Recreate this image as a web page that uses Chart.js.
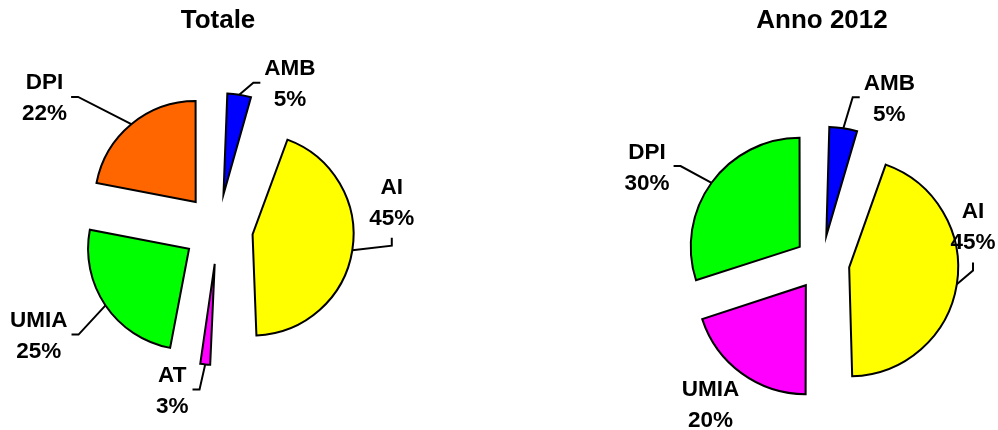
<!DOCTYPE html>
<html>
<head>
<meta charset="utf-8">
<script src="https://cdn.jsdelivr.net/npm/chart.js@4.4.1/dist/chart.umd.min.js"></script>
<style>
  html,body{margin:0;padding:0;background:#fff;overflow:hidden;}
  #wrap{position:relative;width:998px;height:430px;overflow:hidden;}
  canvas{position:absolute;top:0;}
  #totCanvas{left:-50px;}
  #yearCanvas{left:600px;}
</style>
</head>
<body>
<div id="wrap">
  <canvas id="totCanvas" width="502" height="430"></canvas>
  <canvas id="yearCanvas" width="428" height="430"></canvas>
</div>
<script>
/* ---------- data ---------- */
const totLabels = ['AMB','AI','AT','UMIA','DPI'];
const totValues = [5,45,3,25,22];
const totColors = ['#0000FF','#FFFF00','#FF00FF','#00FF00','#FF6600'];

const yearLabels = ['AMB','AI','UMIA','DPI'];
const yearValues = [5,45,20,30];
const yearColors = ['#0000FF','#FFFF00','#FF00FF','#00FF00'];

const FONT = "'Liberation Sans', Arial, Helvetica, sans-serif";

/* chart.js grows small slices when they're offset - undo that so every slice keeps the same radius */
const keepRadius = {
  id:'keepRadius',
  afterDatasetUpdate(chart, args){
    const R = args.meta.controller.outerRadius;
    args.meta.data.forEach(arc=>{
      const off = (arc.options && arc.options.offset || 0)/4;
      const fix = 1 - Math.sin(Math.min(Math.PI, arc.circumference));
      arc.outerRadius = R - off*fix;
    });
  }
};

/* outside labels "NAME / nn%" with leader lines */
const sliceLabels = {
  id:'sliceLabels',
  afterDatasetsDraw(chart, args, opts){
    const meta = chart.getDatasetMeta(0);
    const R = meta.controller.outerRadius;
    const vals = chart.data.datasets[0].data;
    const ctx = chart.ctx;
    ctx.save();
    ctx.font = `bold ${opts.size}px ${FONT}`;
    ctx.fillStyle = '#000';
    ctx.strokeStyle = '#000';
    ctx.lineWidth = 2;
    ctx.textAlign = 'center';
    meta.data.forEach((arc,i)=>{
      const p = opts.place[i];
      if(!p) return;
      const mid = (arc.startAngle + arc.endAngle)/2;
      const ang = mid + p.turn*Math.PI/180;
      const bx = arc.x + Math.cos(ang)*p.dist;
      const by = arc.y + Math.sin(ang)*p.dist;
      const lines = [chart.data.labels[i], vals[i] + '%'];
      const w = Math.max(...lines.map(t=>ctx.measureText(t).width));
      lines.forEach((t,k)=>{
        ctx.fillText(t, bx, by + (k-0.5)*opts.lineGap + opts.size*0.358);
      });
      if(!p.leader) return;
      const shift = (arc.options.offset||0)/4;
      const sx = arc.x + Math.cos(mid)*(shift + R);
      const sy = arc.y + Math.sin(mid)*(shift + R);
      let ex, ey, kx, ky;
      if(p.leader === 'h'){
        const right = bx > sx;
        ex = right ? bx - w/2 - 4 : bx + w/2 + 4;
        ey = by;
        kx = right ? ex - 7 : ex + 7;
        ky = ey;
      } else {
        ex = bx;
        ey = by + opts.lineGap/2 + opts.size*0.358 + 13;
        kx = ex;
        ky = ey + 8;
      }
      ctx.beginPath();
      ctx.moveTo(sx, sy);
      ctx.lineTo(kx, ky);
      ctx.lineTo(ex, ey);
      ctx.stroke();
    });
    ctx.restore();
  }
};

function explodedPie(canvasId, title, labels, values, colors, cfg){
  return new Chart(document.getElementById(canvasId), {
    type:'pie',
    data:{
      labels: labels,
      datasets:[{
        data: values,
        backgroundColor: colors,
        borderColor:'#000',
        borderWidth:2,
        borderJoinStyle:'miter',
        offset: cfg.offset
      }]
    },
    options:{
      responsive:false,
      animation:false,
      radius: cfg.radius,
      layout:{padding: cfg.padding},
      events:[],
      plugins:{
        legend:{display:false},
        tooltip:{enabled:false},
        title:{
          display:true,
          text:title,
          color:'#000',
          font:{family:FONT, size:26, weight:'bold'},
          padding: cfg.titlePad
        },
        sliceLabels:{size:22.5, lineGap:31, place: cfg.place}
      }
    },
    plugins:[keepRadius, sliceLabels]
  });
}

explodedPie('totCanvas', 'Totale', totLabels, totValues, totColors, {
  offset:140,
  radius:101,
  padding:{left:34, right:0, top:0, bottom:8.6},
  titlePad:{top:5.4, bottom:0},
  place:[
    {turn:17.2, dist:163, leader:'h'},
    {turn:-18.1, dist:176, leader:'v'},
    {turn:10.5, dist:167, leader:'h'},
    {turn:3.7, dist:208, leader:'h'},
    {turn:-13.1, dist:218, leader:'h'}
  ]
});

explodedPie('yearCanvas', 'Anno 2012', yearLabels, yearValues, yearColors, {
  offset:110,
  radius:109,
  padding:{left:16, right:0, top:0, bottom:0},
  titlePad:{top:5.4, bottom:59.4},
  place:[
    {turn:13.1, dist:179, leader:'h'},
    {turn:-22.8, dist:155.5, leader:'v'},
    {turn:2.4, dist:179.4, leader:null},
    {turn:-7, dist:200, leader:'h'}
  ]
});
</script>
</body>
</html>
